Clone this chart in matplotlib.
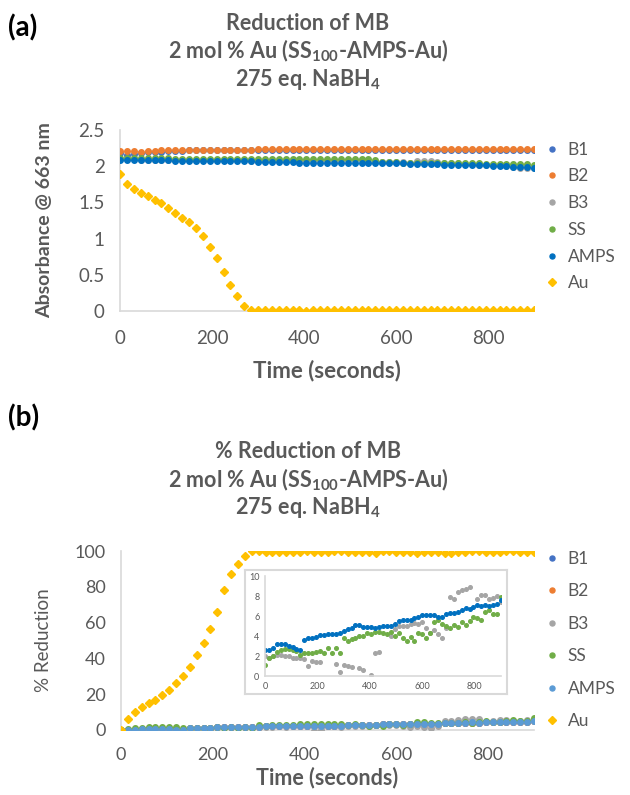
import numpy as np
import matplotlib
matplotlib.use("Agg")
import matplotlib.pyplot as plt
from matplotlib.lines import Line2D

plt.rcParams['font.family'] = ['Lato', 'DejaVu Sans']
plt.rcParams['mathtext.fontset'] = 'custom'
plt.rcParams['mathtext.rm'] = 'Lato'
plt.rcParams['mathtext.bf'] = 'Lato:bold'
plt.rcParams['mathtext.it'] = 'Lato:italic'

nan = np.nan

# time axis, one reading every 15 s
time_s = np.arange(0, 901, 15)

series_names = ['B1', 'B2', 'B3', 'SS', 'AMPS', 'Au']

# ---------------- (a) absorbance @ 663 nm ----------------
abs_b1 = [2.18, 2.16, 2.17, 2.18, 2.19, 2.20, 2.20, 2.21, 2.21, 2.21,
          2.22, 2.22, 2.22, 2.22, 2.22, 2.22, 2.22, 2.22, 2.23, 2.23,
          2.23, 2.23, 2.23, 2.23, 2.23, 2.23, 2.23, 2.23, 2.23, 2.23,
          2.23, 2.23, 2.23, 2.23, 2.23, 2.23, 2.23, 2.23, 2.23, 2.23,
          2.23, 2.23, 2.23, 2.23, 2.23, 2.23, 2.23, 2.23, 2.23, 2.23,
          2.23, 2.23, 2.23, 2.23, 2.23, 2.23, 2.23, 2.23, 2.23, 2.23,
          2.23]
abs_b2 = [2.21, 2.21, 2.21, 2.20, 2.21, 2.21, 2.22, 2.22, 2.22, 2.22,
          2.22, 2.23, 2.23, 2.23, 2.23, 2.23, 2.23, 2.23, 2.23, 2.23,
          2.24, 2.24, 2.24, 2.24, 2.24, 2.24, 2.24, 2.24, 2.24, 2.24,
          2.24, 2.24, 2.24, 2.24, 2.24, 2.24, 2.24, 2.24, 2.24, 2.24,
          2.24, 2.24, 2.24, 2.24, 2.24, 2.24, 2.24, 2.24, 2.24, 2.24,
          2.24, 2.24, 2.24, 2.24, 2.24, 2.24, 2.24, 2.24, 2.24, 2.24,
          2.24]
abs_b3 = [2.10, 2.10, 2.10, 2.09, 2.09, 2.09, 2.09, 2.08, 2.08, 2.08,
          2.08, 2.08, 2.08, 2.08, 2.08, 2.08, 2.08, 2.08, 2.08, 2.07,
          2.07, 2.07, 2.07, 2.07, 2.07, 2.07, 2.07, 2.07, 2.07, 2.07,
          2.07, 2.07, 2.07, 2.08, 2.08, 2.08, 2.06, 2.06, 2.06, 2.06,
          2.06, 2.06, 2.05, 2.07, 2.07, 2.07, 2.06, 2.04, 2.04, 2.04,
          2.03, 2.03, 2.02, 2.02, 2.01, 2.01, 2.00, 1.99, 1.98, 1.98,
          1.97]
abs_ss = [2.12, 2.12, 2.12, 2.11, 2.11, 2.11, 2.11, 2.11, 2.10, 2.10,
          2.10, 2.10, 2.10, 2.10, 2.10, 2.10, 2.10, 2.10, 2.10, 2.10,
          2.10, 2.10, 2.10, 2.10, 2.10, 2.10, 2.10, 2.10, 2.10, 2.10,
          2.10, 2.10, 2.10, 2.10, 2.10, 2.10, 2.10, 2.08, 2.06, 2.06,
          2.06, 2.05, 2.05, 2.05, 2.05, 2.05, 2.04, 2.04, 2.05, 2.04,
          2.04, 2.04, 2.04, 2.03, 2.03, 2.03, 2.03, 2.03, 2.03, 2.03,
          2.02]
abs_amps = [2.09, 2.09, 2.09, 2.09, 2.08, 2.08, 2.08, 2.08, 2.07, 2.07,
            2.07, 2.07, 2.07, 2.07, 2.07, 2.07, 2.07, 2.07, 2.07, 2.07,
            2.06, 2.06, 2.06, 2.06, 2.06, 2.06, 2.05, 2.05, 2.05, 2.05,
            2.05, 2.05, 2.05, 2.05, 2.05, 2.04, 2.04, 2.04, 2.04, 2.04,
            2.04, 2.04, 2.03, 2.03, 2.03, 2.03, 2.03, 2.02, 2.02, 2.02,
            2.02, 2.02, 2.01, 2.01, 2.00, 2.00, 2.00, 1.99, 1.99, 1.99,
            1.98]
abs_au = [1.89, 1.75, 1.69, 1.63, 1.59, 1.54, 1.49, 1.42, 1.36, 1.29,
          1.23, 1.14, 1.03, 0.89, 0.73, 0.54, 0.36, 0.21, 0.07, 0.01,
          0.01, 0.01, 0.01, 0.01, 0.01, 0.01, 0.01, 0.00, 0.01, 0.01,
          0.01, 0.02, 0.02, 0.02, 0.01, 0.02, 0.01, 0.01, 0.01, 0.01,
          0.01, 0.02, 0.02, 0.02, 0.01, 0.01, 0.01, 0.01, 0.01, 0.01,
          0.01, 0.02, 0.01, 0.02, 0.01, 0.01, 0.01, 0.01, 0.01, 0.01,
          0.01]

# ---------------- (b) % reduction ----------------
pct_b1 = [0.0, 0.0, 0.2, 0.5, 0.6, 0.5, 0.4, 0.3, 0.1, 0.0,
          0.9, 1.1, 1.2, 1.3, 1.4, 1.5, 1.6, 1.6, 1.6, 1.7,
          1.9, 2.0, 2.2, 2.4, 2.5, 2.3, 2.3, 2.3, 2.2, 2.3,
          2.4, 2.4, 2.4, 2.6, 2.9, 3.0, 3.0, 3.0, 3.2, 3.3,
          3.4, 3.5, 3.5, 3.5, 3.3, 3.3, 3.6, 3.7, 3.7, 3.8,
          4.0, 4.1, 4.1, 4.3, 4.4, 4.4, 4.5, 4.4, 4.5, 4.6,
          4.9]
pct_b2 = [0.0, 0.0, 0.1, 0.5, 0.5, 0.5, 0.4, 0.3, 0.1, 0.0,
          0.9, 1.1, 1.1, 1.2, 1.4, 1.4, 1.5, 1.6, 1.6, 1.7,
          1.9, 2.0, 2.1, 2.4, 2.4, 2.3, 2.3, 2.3, 2.2, 2.3,
          2.4, 2.4, 2.4, 2.6, 2.8, 2.9, 3.0, 3.0, 3.1, 3.3,
          3.4, 3.5, 3.5, 3.5, 3.3, 3.3, 3.5, 3.7, 3.7, 3.8,
          4.0, 4.1, 4.1, 4.2, 4.4, 4.4, 4.4, 4.4, 4.5, 4.6,
          4.9]
pct_b3 = [-0.6, -0.8, -0.6, -0.5, -0.5, -0.6, -0.6, -0.8, -0.8, -0.8,
          -0.9, -1.6, -1.1, -1.2, -1.2, nan, nan, nan, -1.4, -2.2,
          -1.5, -1.6, -1.7, nan, -1.8, -2.0, nan, -2.5, -0.3, -0.2,
          nan, nan, 1.4, 2.1, 2.4, 2.4, 2.4, 2.6, 2.7, 2.6,
          2.8, 2.2, 1.7, 2.0, 1.6, 1.2, 2.2, 5.3, 5.1, 5.8,
          6.0, 6.1, 6.3, nan, 5.1, 5.5, 5.5, 5.1, 5.2, 5.4,
          4.8]
pct_ss = [0.0, 0.7, 0.9, 1.3, 1.5, 1.6, 1.6, 1.5, 1.4, 1.0,
          1.2, 1.2, 1.2, 1.3, 1.4, 1.2, 1.7, 1.2, 1.7, 1.2,
          2.7, 2.4, 2.6, 2.7, 2.9, 2.9, 3.2, 3.1, 3.3, 3.3,
          3.2, 3.1, 3.3, 2.9, 3.2, 2.7, 2.4, 2.8, 2.4, 3.2,
          3.1, 2.7, 3.2, 4.3, 4.5, 4.1, 3.9, 3.7, 4.0, 3.8,
          4.3, 4.0, 4.4, 4.8, 4.7, 4.5, 5.3, 5.5, 5.1, 5.1,
          6.6]
pct_amps = [0.0, 0.0, 0.2, 0.6, 0.6, 0.6, 0.4, 0.3, 0.1, 0.0,
            1.0, 1.2, 1.2, 1.3, 1.5, 1.5, 1.6, 1.6, 1.6, 1.7,
            1.9, 2.1, 2.2, 2.5, 2.5, 2.3, 2.3, 2.3, 2.2, 2.3,
            2.4, 2.4, 2.4, 2.6, 2.9, 3.0, 3.0, 3.0, 3.2, 3.3,
            3.5, 3.5, 3.5, 3.5, 3.3, 3.3, 3.6, 3.7, 3.7, 3.8,
            4.0, 4.2, 4.1, 4.3, 4.5, 4.4, 4.5, 4.4, 4.5, 4.6,
            5.0]
pct_au = [0.0, 6.3, 10.0, 12.8, 15.0, 16.9, 19.3, 22.6, 26.3, 30.4,
          35.0, 42.0, 48.5, 56.3, 66.0, 78.0, 87.4, 92.6, 97.2, 99.8,
          99.8, 99.6, 99.2, 99.4, 99.6, 99.6, 99.6, 99.8, 99.6, 99.4,
          99.6, 99.8, 99.8, 99.6, 99.4, 99.4, 99.4, 99.0, 99.8, 99.8,
          99.6, 99.6, 99.2, 99.0, 99.2, 99.4, 99.4, 99.0, 98.8, 99.6,
          99.6, 99.8, 99.8, 99.6, 99.6, 99.4, 99.8, 99.8, 99.6, 99.6,
          99.6]

# inset (zoom of the low series, 0-10 %)
inset_b3 = [2.0, 1.8, 2.0, 2.1, 2.1, 2.0, 2.0, 1.8, 1.8, 1.8,
            1.7, 1.0, 1.5, 1.4, 1.4, nan, nan, nan, 1.2, 0.4,
            1.1, 1.0, 0.9, nan, 0.8, 0.6, nan, 0.1, 2.3, 2.4,
            nan, nan, 4.0, 4.7, 5.0, 5.0, 5.0, 5.2, 5.3, 5.2,
            5.4, 4.8, 4.3, 4.6, 4.2, 3.8, 4.8, 7.9, 7.7, 8.4,
            8.6, 8.7, 8.9, nan, 7.7, 8.1, 8.1, 7.7, 7.8, 8.0,
            7.4]
inset_ss = [1.1, 1.8, 2.0, 2.4, 2.6, 2.7, 2.7, 2.6, 2.5, 2.1,
            2.3, 2.3, 2.3, 2.4, 2.5, 2.3, 2.8, 2.3, 2.8, 2.3,
            3.8, 3.5, 3.7, 3.8, 4.0, 4.0, 4.3, 4.2, 4.4, 4.4,
            4.3, 4.2, 4.4, 4.0, 4.3, 3.8, 3.5, 3.9, 3.5, 4.3,
            4.2, 3.8, 4.3, 5.4, 5.6, 5.2, 5.0, 4.8, 5.1, 4.9,
            5.4, 5.1, 5.5, 5.9, 5.8, 5.6, 6.4, 6.6, 6.2, 6.2,
            7.9]
inset_amps = [2.6, 2.6, 2.8, 3.2, 3.2, 3.2, 3.0, 2.9, 2.7, 2.6,
              3.6, 3.8, 3.8, 3.9, 4.1, 4.1, 4.2, 4.2, 4.2, 4.3,
              4.5, 4.7, 4.8, 5.1, 5.1, 4.9, 4.9, 4.9, 4.8, 4.9,
              5.0, 5.0, 5.0, 5.2, 5.5, 5.6, 5.6, 5.6, 5.8, 5.9,
              6.1, 6.1, 6.1, 6.1, 5.9, 5.9, 6.2, 6.3, 6.3, 6.4,
              6.6, 6.8, 6.7, 6.9, 7.1, 7.0, 7.1, 7.0, 7.1, 7.2,
              7.6]

GRAY = '#595959'
AXIS = '#D9D9D9'
colors_a = ['#4472C4', '#ED7D31', '#A5A5A5', '#70AD47', '#0070C0', '#FFC000']
colors_b = ['#4472C4', '#ED7D31', '#A5A5A5', '#70AD47', '#5B9BD5', '#FFC000']

W, H = 630, 795
fig = plt.figure(figsize=(W / 100, H / 100), dpi=100)


def fx(px):
    return px / W


def fy(py):
    return 1 - py / H


def style_axes(ax, fs, padx=6, pady=6):
    for s in ['top', 'right']:
        ax.spines[s].set_visible(False)
    for s in ['left', 'bottom']:
        ax.spines[s].set_color(AXIS)
        ax.spines[s].set_linewidth(1.2)
    ax.tick_params(length=0, labelsize=fs, labelcolor=GRAY)
    ax.tick_params(axis='x', pad=padx)
    ax.tick_params(axis='y', pad=pady)


def draw_series(ax, data, colors, ms_dot, ms_dia, clip=True):
    for name, vals, c in zip(series_names, data, colors):
        if name == 'Au':
            ax.plot(time_s, vals, ls='none', marker='D', ms=ms_dia, color=c,
                    mec=c, clip_on=clip, zorder=3)
        else:
            ax.plot(time_s, vals, ls='none', marker='o', ms=ms_dot, color=c,
                    mec=c, clip_on=clip, zorder=3)


def add_legend(colors, top_px, spacing):
    handles = []
    for name, c in zip(series_names, colors):
        m = 'D' if name == 'Au' else 'o'
        handles.append(Line2D([], [], ls='none', marker=m, ms=3.6 if m == 'o' else 4,
                              color=c, mec=c, label=name))
    leg = fig.legend(handles=handles, loc='upper left',
                     bbox_to_anchor=(fx(538), fy(top_px)), frameon=False,
                     fontsize=12.5, labelcolor=GRAY, handlelength=0.6,
                     handletextpad=0.6, labelspacing=spacing, borderpad=0)
    return leg


title_kw = dict(ha='center', va='center', fontsize=15.5, fontweight='bold', color=GRAY)

# ---------------- panel (a) ----------------
fig.text(fx(8), fy(28), '(a)', fontsize=20, fontweight='bold', color='black', va='center')
fig.text(fx(308), fy(23), 'Reduction of MB', **title_kw)
fig.text(fx(308), fy(51), r'2 mol % Au (SS$_\mathbf{100}$-AMPS-Au)', **title_kw)
fig.text(fx(308), fy(79), r'275 eq. NaBH$_\mathbf{4}$', **title_kw)

ax1 = fig.add_axes([fx(120), fy(311), fx(414), 181 / H])
draw_series(ax1, [abs_b1, abs_b2, abs_b3, abs_ss, abs_amps, abs_au],
            colors_a, 4, 4.2)
ax1.set_xlim(0, 900)
ax1.set_ylim(0, 2.5)
ax1.set_xticks([0, 200, 400, 600, 800])
ax1.set_yticks([0, 0.5, 1, 1.5, 2, 2.5])
ax1.set_yticklabels(['0', '0.5', '1', '1.5', '2', '2.5'])
style_axes(ax1, 13.5, padx=14, pady=11)
ax1.set_xlabel('Time (seconds)', fontsize=16, fontweight='bold', color=GRAY, labelpad=9)
ax1.set_ylabel('Absorbance @ 663 nm', fontsize=14, fontweight='bold', color=GRAY, labelpad=18)
add_legend(colors_a, 133, 0.62)

# ---------------- panel (b) ----------------
fig.text(fx(8), fy(418), '(b)', fontsize=20, fontweight='bold', color='black', va='center')
fig.text(fx(308), fy(452), '% Reduction of MB', **title_kw)
fig.text(fx(308), fy(480), r'2 mol % Au (SS$_\mathbf{100}$-AMPS-Au)', **title_kw)
fig.text(fx(308), fy(508), r'275 eq. NaBH$_\mathbf{4}$', **title_kw)

ax2 = fig.add_axes([fx(121), fy(730), fx(413), 179 / H])
draw_series(ax2, [pct_b1, pct_b2, pct_b3, pct_ss, pct_amps, pct_au],
            colors_b, 4, 4.2)
ax2.set_xlim(0, 900)
ax2.set_ylim(0, 100)
ax2.set_xticks([0, 200, 400, 600, 800])
ax2.set_yticks([0, 20, 40, 60, 80, 100])
style_axes(ax2, 13, padx=12, pady=11)
ax2.set_xlabel('Time (seconds)', fontsize=15.5, fontweight='bold', color=GRAY, labelpad=3)
ax2.set_ylabel('% Reduction', fontsize=13.5, color=GRAY, labelpad=16)
add_legend(colors_b, 542, 0.95)

# inset frame and inset chart
frame = fig.add_axes([fx(245), fy(694), fx(262), 124 / H], zorder=4)
frame.set_xticks([])
frame.set_yticks([])
for s in frame.spines.values():
    s.set_color(AXIS)
    s.set_linewidth(1.5)

ax3 = fig.add_axes([fx(265), fy(676), fx(236), 100 / H], zorder=5)
ax3.patch.set_alpha(0)
ax3.plot(time_s, inset_b3, ls='none', marker='o', ms=2.6, color='#A5A5A5', mec='#A5A5A5')
ax3.plot(time_s, inset_ss, ls='none', marker='o', ms=2.6, color='#70AD47', mec='#70AD47')
ax3.plot(time_s, inset_amps, ls='none', marker='o', ms=2.6, color='#0070C0', mec='#0070C0')
ax3.set_xlim(0, 900)
ax3.set_ylim(0, 10)
ax3.set_xticks([0, 200, 400, 600, 800])
ax3.set_yticks([0, 2, 4, 6, 8, 10])
style_axes(ax3, 6.5, padx=4, pady=4)

fig.savefig('out.png', dpi=100)
